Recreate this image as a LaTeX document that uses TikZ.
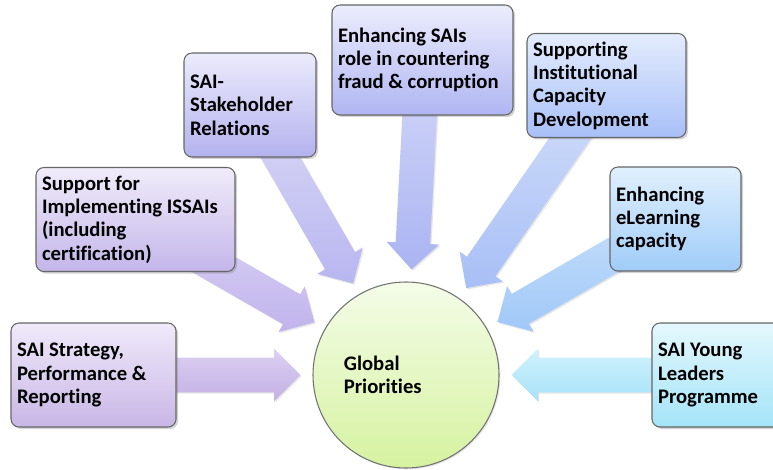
\documentclass[tikz,border=0pt]{standalone}
\usepackage{fontspec}
\setmainfont{Carlito}[Ligatures=NoCommon]
\usepackage{tikz}
\usetikzlibrary{calc,shapes.arrows,shadows,backgrounds}

% box shading, top and bottom
\definecolor{stratTop}{HTML}{F0EAFA}\definecolor{stratBot}{HTML}{C8B6E6}
\definecolor{issaiTop}{HTML}{F0ECFA}\definecolor{issaiBot}{HTML}{C4B6EA}
\definecolor{stakeTop}{HTML}{ECEBFC}\definecolor{stakeBot}{HTML}{B4B2EE}
\definecolor{fraudTop}{HTML}{ECEDFD}\definecolor{fraudBot}{HTML}{B0B6F2}
\definecolor{capdevTop}{HTML}{E4ECFD}\definecolor{capdevBot}{HTML}{A8C0F8}
\definecolor{elearnTop}{HTML}{E0F0FD}\definecolor{elearnBot}{HTML}{A0CCF8}
\definecolor{youngTop}{HTML}{E4F8FD}\definecolor{youngBot}{HTML}{A4E4F8}
% arrow shading, light (top) and dark (bottom)
\definecolor{stratL}{HTML}{DCD0F2}\definecolor{stratD}{HTML}{C2B0E4}
\definecolor{issaiL}{HTML}{DED6F6}\definecolor{issaiD}{HTML}{C0B4EC}
\definecolor{stakeL}{HTML}{DCDAF6}\definecolor{stakeD}{HTML}{B8B6F0}
\definecolor{fraudL}{HTML}{D4D8F8}\definecolor{fraudD}{HTML}{AAB4F2}
\definecolor{capdevL}{HTML}{D4E0FA}\definecolor{capdevD}{HTML}{A8BFF6}
\definecolor{elearnL}{HTML}{C8E0FA}\definecolor{elearnD}{HTML}{A0C8F8}
\definecolor{youngL}{HTML}{D0F2FD}\definecolor{youngD}{HTML}{A8E2F8}
\definecolor{hubTop}{HTML}{F4FCE8}\definecolor{hubBot}{HTML}{D6F2A0}

\begin{document}
\begin{tikzpicture}[x=0.75pt, y=-0.75pt, font=\fontsize{15.5}{17.5}\selectfont\bfseries]

		\tikzstyle{prio box}=[draw=black!60, line width=0.8pt, rounded corners=6pt, inner xsep=4.5pt, inner ysep=0pt, align=flush left, minimum height=78pt, drop shadow={opacity=0.35, shadow xshift=1.5pt, shadow yshift=-1.5pt}]
		\tikzstyle{fat arrow}=[single arrow, inner xsep=0pt, inner ysep=12.75pt, single arrow head extend=6.75pt, single arrow tip angle=90, drop shadow={opacity=0.2, shadow xshift=1pt, shadow yshift=-1pt}]
		\tikzstyle{hub}=[circle, draw=black!55, line width=0.8pt, minimum size=139.5pt, top color=hubTop, bottom color=hubBot, drop shadow={opacity=0.2, shadow xshift=1pt, shadow yshift=-1pt}]

		\useasboundingbox (0,0) rectangle (773,470);

		%centre circle
		\node [hub] (gp) at (406,375) {};
		\node [align=flush left, anchor=west] (gptext) at ([xshift=20pt]gp.west) {Global\\Priorities};

		%boxes
		\node [prio box, text width=114.75pt, top color=stratTop, bottom color=stratBot] (strat) at (93.5,375) {SAI Strategy,\\Performance \&\\Reporting};
		\node [prio box, text width=140.25pt, top color=issaiTop, bottom color=issaiBot] (issai) at (135.5,219.5) {Support for\\Implementing ISSAIs\\(including\\certification)};
		\node [prio box, text width=90pt, top color=stakeTop, bottom color=stakeBot] (stake) at (250,105) {SAI-\\Stakeholder\\Relations};
		\node [prio box, text width=126.75pt, minimum height=82.5pt, top color=fraudTop, bottom color=fraudBot] (fraud) at (422.5,60) {\rule{0pt}{9pt}Enhancing SAIs\\role in countering\\fraud \& corruption};
		\node [prio box, text width=110.25pt, top color=capdevTop, bottom color=capdevBot] (capdev) at (606.5,85.5) {Supporting\\Institutional\\Capacity\\Development};
		\node [prio box, text width=89.25pt, top color=elearnTop, bottom color=elearnBot] (elearn) at (675.5,219) {Enhancing\\eLearning\\capacity};
		\node [prio box, text width=88.5pt, top color=youngTop, bottom color=youngBot] (young) at (717,375) {SAI Young\\Leaders\\Programme};

		%fat arrows from each box towards the circle, behind the boxes
		\begin{pgfonlayer}{background}
		\foreach \bx in {strat,issai,stake,fraud,capdev,elearn,young}
			\path let \p1=(\bx.center), \p2=($(gp.center)!79.5pt!(\bx.center)$),
				\n1={veclen(\x2-\x1,\y2-\y1)}, \n2={atan2(\y2-\y1,\x2-\x1)} in
				node [fat arrow, minimum height=\n1, rotate=\n2, anchor=tail, top color=\bx L, bottom color=\bx D] (\bx-arr) at (\p1) {};
		\end{pgfonlayer}

\end{tikzpicture}
\end{document}
